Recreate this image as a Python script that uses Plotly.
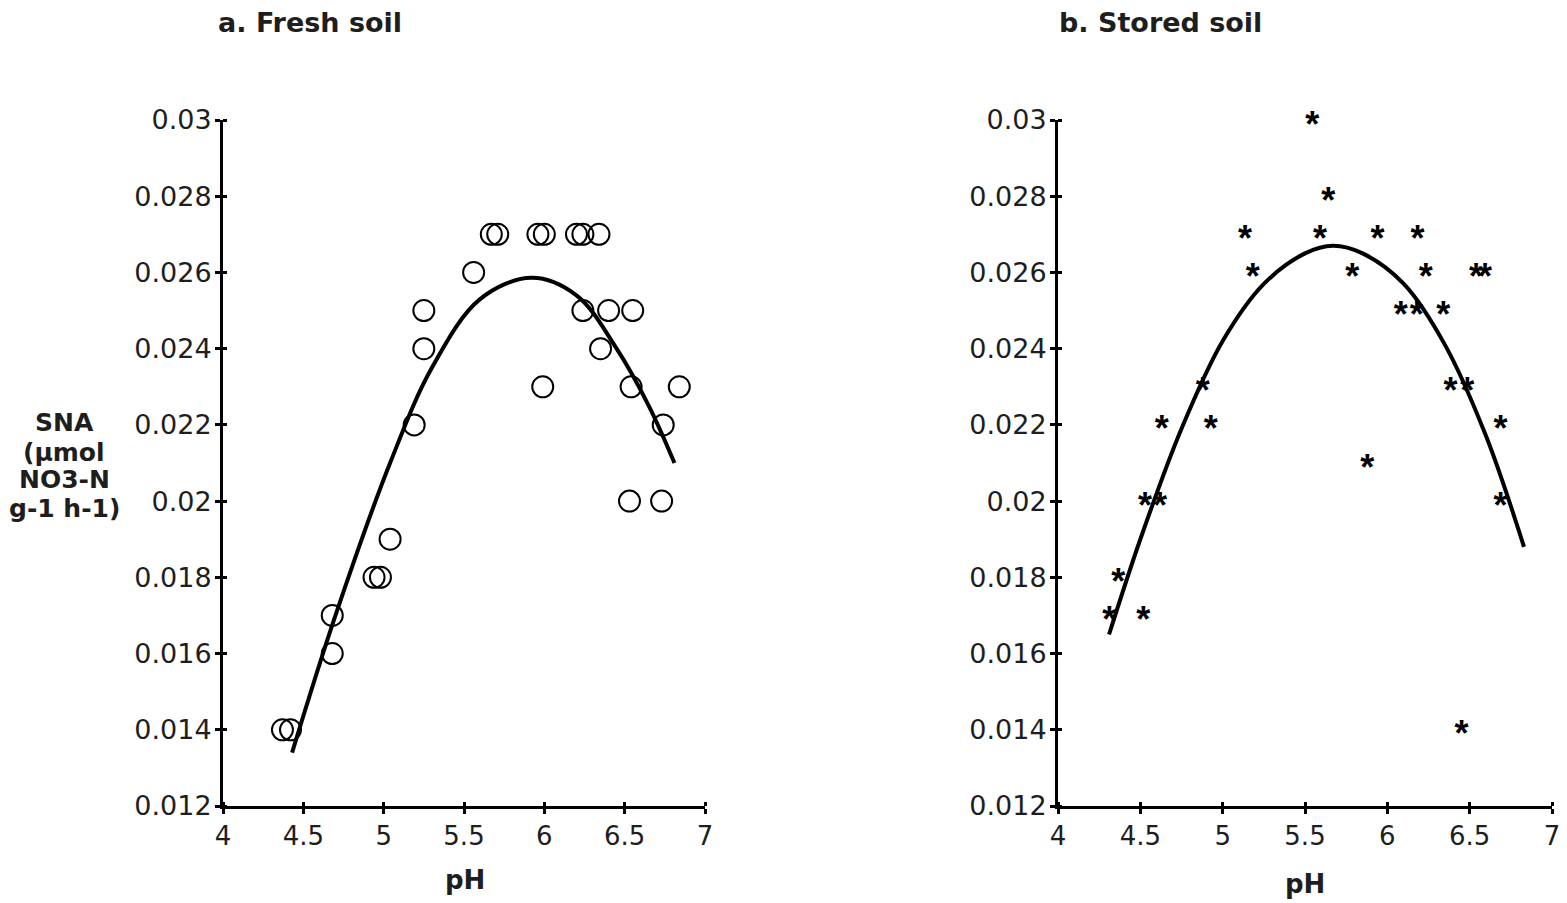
import plotly.graph_objects as go

# ---------------- data ----------------
x_ticks = [4, 4.5, 5, 5.5, 6, 6.5, 7]
x_tick_labels = ["4", "4.5", "5", "5.5", "6", "6.5", "7"]
y_ticks = [0.012, 0.014, 0.016, 0.018, 0.020, 0.022, 0.024, 0.026, 0.028, 0.030]
y_tick_labels = ["0.012", "0.014", "0.016", "0.018", "0.02", "0.022", "0.024", "0.026", "0.028", "0.03"]

# a. Fresh soil (open circles)
fresh_ph = [4.37, 4.42, 4.68, 4.68, 4.94, 4.98, 5.04, 5.19, 5.25, 5.25, 5.56,
            5.67, 5.71, 5.96, 6.00, 5.99, 6.20, 6.24, 6.34, 6.24, 6.40, 6.35,
            6.55, 6.54, 6.53, 6.73, 6.74, 6.84]
fresh_sna = [0.014, 0.014, 0.017, 0.016, 0.018, 0.018, 0.019, 0.022, 0.024, 0.025, 0.026,
             0.027, 0.027, 0.027, 0.027, 0.023, 0.027, 0.027, 0.027, 0.025, 0.025, 0.024,
             0.025, 0.023, 0.020, 0.020, 0.022, 0.023]
# fitted trend curve
fresh_fit_ph = [4.43, 4.7, 5.04, 5.3, 5.6, 5.92, 6.2, 6.45, 6.65, 6.81]
fresh_fit_sna = [0.0134, 0.0170, 0.0210, 0.0235, 0.0253, 0.02586, 0.0254, 0.0240, 0.0225, 0.0210]

# b. Stored soil (asterisks)
stored_ph = [5.544, 5.641, 5.135, 5.591, 5.941, 6.184, 5.182, 5.787, 6.234, 6.538,
             6.593, 6.081, 6.178, 6.339, 4.879, 6.384, 6.485, 4.630, 4.927, 6.688,
             5.878, 4.528, 4.619, 6.688, 4.366, 4.311, 4.518, 6.451]
stored_sna = [0.030, 0.028, 0.027, 0.027, 0.027, 0.027, 0.026, 0.026, 0.026, 0.026,
              0.026, 0.025, 0.025, 0.025, 0.023, 0.023, 0.023, 0.022, 0.022, 0.022,
              0.021, 0.020, 0.020, 0.020, 0.018, 0.017, 0.017, 0.014]
stored_fit_ph = [4.31, 4.5, 4.75, 5.0, 5.25, 5.5, 5.67, 5.85, 6.1, 6.35, 6.6, 6.83]
stored_fit_sna = [0.0165, 0.0190, 0.0219, 0.0242, 0.0257, 0.0265, 0.0267, 0.0265,
                  0.0257, 0.0241, 0.0217, 0.0188]

# ---------------- figure ----------------
W, H = 1567, 903
FONT = "DejaVu Sans, Verdana, sans-serif"
TXT = "#1e1e1e"

def px_x(p):
    return p / W

def px_y(p):
    return (H - p) / H

fig = go.Figure()

fig.add_trace(go.Scatter(
    x=fresh_ph, y=fresh_sna, mode="markers",
    marker=dict(symbol="circle-open", size=21, color="black", line=dict(width=2, color="black")),
    xaxis="x", yaxis="y", showlegend=False, cliponaxis=False))
fig.add_trace(go.Scatter(
    x=fresh_fit_ph, y=fresh_fit_sna, mode="lines",
    line=dict(color="black", width=4, shape="spline", smoothing=1.0),
    xaxis="x", yaxis="y", showlegend=False))

# asterisk glyph drawn as text; the inner span size sets the glyph, the outer
# textfont size only sets plotly's vertical text anchoring so the glyph is centred
star_text = '<span style="font-size:36px">*</span>'
fig.add_trace(go.Scatter(
    x=stored_ph, y=stored_sna, mode="text", text=[star_text] * len(stored_ph),
    textposition="middle center",
    textfont=dict(family="Liberation Sans, Arial, sans-serif", size=66, color="black", weight="bold"),
    xaxis="x2", yaxis="y2", showlegend=False, cliponaxis=False))
fig.add_trace(go.Scatter(
    x=stored_fit_ph, y=stored_fit_sna, mode="lines",
    line=dict(color="black", width=4, shape="spline", smoothing=1.0),
    xaxis="x2", yaxis="y2", showlegend=False))

ydom = [px_y(806), px_y(120)]

def xax(dom, anchor):
    return dict(domain=dom, range=[4, 7], anchor=anchor, showline=True, linewidth=3,
                linecolor="black", ticks="outside", ticklen=5, tickwidth=3, tickcolor="black",
                tickvals=x_ticks, ticktext=x_tick_labels, showgrid=False, zeroline=False,
                minor=dict(ticks="inside", tickvals=x_ticks, ticklen=4, tickwidth=3,
                           tickcolor="black", showgrid=False),
                automargin=False,
                tickfont=dict(family=FONT, size=26, color=TXT), ticklabelstandoff=0)

def yax(anchor):
    return dict(domain=ydom, range=[0.012, 0.030], anchor=anchor, showline=True, linewidth=3,
                linecolor="black", ticks="outside", ticklen=5, tickwidth=3, tickcolor="black",
                tickvals=y_ticks, ticktext=y_tick_labels, showgrid=False, zeroline=False,
                minor=dict(ticks="inside", tickvals=y_ticks, ticklen=4, tickwidth=3,
                           tickcolor="black", showgrid=False),
                automargin=False,
                tickfont=dict(family=FONT, size=27, color=TXT), ticklabelstandoff=-2)

fig.update_layout(
    width=W, height=H, autosize=False,
    margin=dict(l=0, r=0, t=0, b=0, pad=0, autoexpand=False),
    paper_bgcolor="white", plot_bgcolor="white",
    font=dict(family=FONT, color=TXT),
    xaxis=xax([px_x(223), px_x(705)], "y"),
    yaxis=yax("x"),
    xaxis2=xax([px_x(1058), px_x(1552)], "y2"),
    yaxis2=yax("x2"),
)

annotations = [
    dict(text="<b>a. Fresh soil</b>", x=px_x(310), y=px_y(22), font=dict(size=27)),
    dict(text="<b>b. Stored soil</b>", x=px_x(1160), y=px_y(22), font=dict(size=27)),
    dict(text="<b>pH</b>", x=px_x(465), y=px_y(880), font=dict(size=26)),
    dict(text="<b>pH</b>", x=px_x(1305), y=px_y(884), font=dict(size=26)),
]
y_label_lines = ["SNA", "(µmol", "NO3-N", "g-1 h-1)"]
y_label_rows = [422, 452, 480, 509]
for line, row in zip(y_label_lines, y_label_rows):
    annotations.append(dict(text="<b>" + line + "</b>", x=px_x(64), y=px_y(row), font=dict(size=25)))
for a in annotations:
    a.update(xref="paper", yref="paper", showarrow=False, xanchor="center", yanchor="middle")
    a["font"].update(family=FONT, color=TXT)
fig.update_layout(annotations=annotations)

fig.write_html(
    "out.html",
    config={"responsive": False, "displayModeBar": False},
    post_script="document.body.style.margin='0px'; document.body.style.overflow='hidden';",
)
